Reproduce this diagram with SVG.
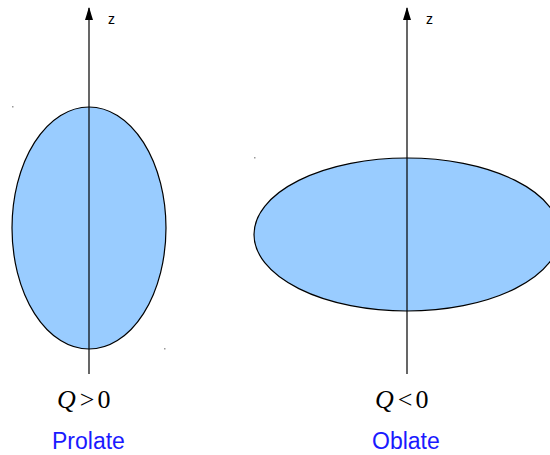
<svg xmlns="http://www.w3.org/2000/svg" width="550" height="455" viewBox="0 0 550 455">
<style>
.shape{fill:#99ccff;stroke:#000;stroke-width:1.2}
.axis{stroke:#000;stroke-width:1.2;fill:none}
.z{font-family:"Liberation Sans",Arial,sans-serif;font-size:14px;fill:#000}
.q{font-family:"Liberation Serif","Times New Roman",serif;font-size:26px;fill:#000}
.lbl{font-family:"Liberation Sans",Arial,sans-serif;font-size:23px;fill:#1a1aff}
.dot{fill:#999}
</style>
<defs>
<marker id="arr" markerWidth="13" markerHeight="8" refX="12" refY="4" orient="auto" markerUnits="userSpaceOnUse" viewBox="0 0 13 8">
<path d="M0,0 L13,4 L0,8 Z" fill="#000"/>
</marker>
</defs>
<rect x="0" y="0" width="550" height="455" fill="#fff"/>
<g id="prolate">
<ellipse class="shape" cx="89" cy="228" rx="77" ry="121"/>
<text class="q" x="57" y="408"><tspan font-style="italic">Q</tspan><tspan dx="4">&gt;</tspan><tspan dx="3">0</tspan></text>
<text class="lbl" x="52" y="449">Prolate</text>
</g>
<g id="oblate">
<ellipse class="shape" cx="407" cy="234.5" rx="153" ry="76.5"/>
<text class="q" x="375" y="408"><tspan font-style="italic">Q</tspan><tspan dx="4">&lt;</tspan><tspan dx="3">0</tspan></text>
<text class="lbl" x="372" y="449">Oblate</text>
</g>
<g id="connectors">
<line class="axis" x1="89" y1="374" x2="89" y2="8" marker-end="url(#arr)"/>
<text class="z" x="108" y="24">z</text>
<line class="axis" x1="407" y1="374" x2="407" y2="8" marker-end="url(#arr)"/>
<text class="z" x="426" y="24">z</text>
</g>
<rect class="dot" x="12" y="106" width="1.5" height="1.5"/>
<rect class="dot" x="164" y="348" width="1.5" height="1.5"/>
<rect class="dot" x="254" y="157" width="1.5" height="1.5"/>
</svg>
